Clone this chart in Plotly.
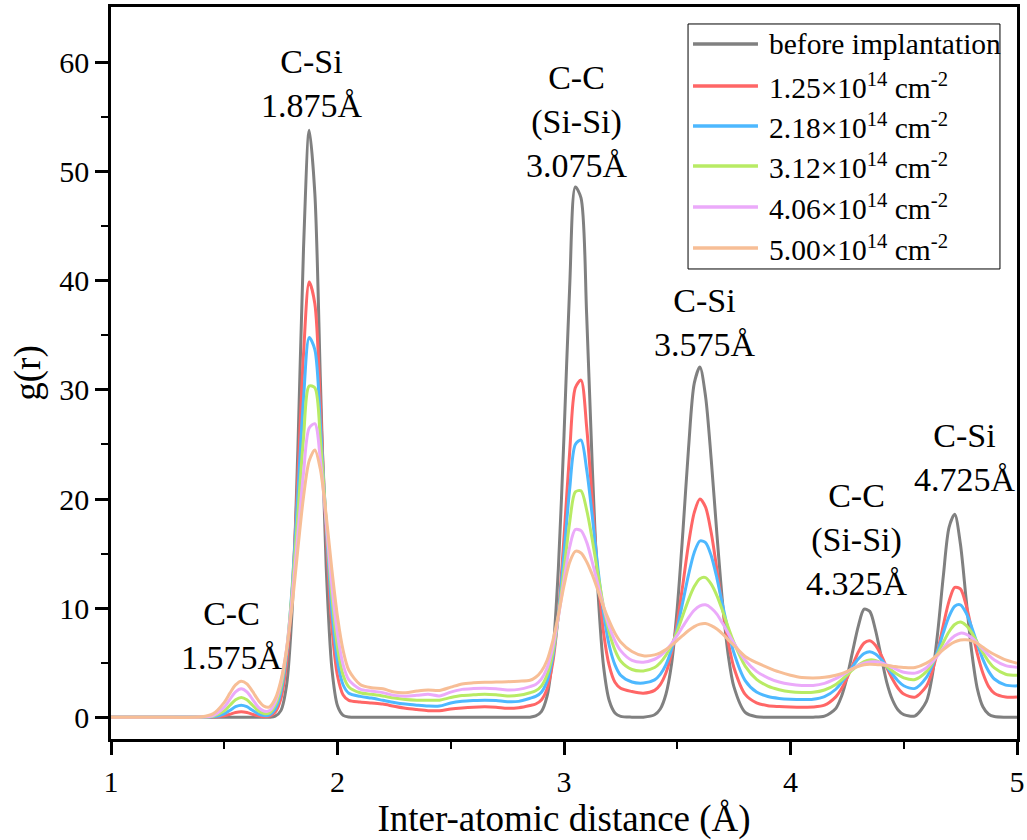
import plotly.graph_objects as go

# ---------------- data ----------------
r = [1.0, 1.2, 1.4, 1.45, 1.5, 1.525, 1.55, 1.575, 1.6, 1.625, 1.65, 1.675, 1.7, 1.725,
     1.75, 1.775, 1.8, 1.825, 1.85, 1.875, 1.9, 1.925, 1.95, 1.975, 2.0, 2.025, 2.05,
     2.1, 2.15, 2.2, 2.25, 2.3, 2.35, 2.4, 2.45, 2.5, 2.55, 2.6, 2.65, 2.7, 2.75, 2.8, 2.85,
     2.875, 2.9, 2.925, 2.95, 2.975, 3.0, 3.025, 3.05, 3.075, 3.1, 3.125, 3.15, 3.175, 3.2, 3.225, 3.25,
     3.3, 3.35, 3.4, 3.425, 3.45, 3.475, 3.5, 3.525, 3.55, 3.575, 3.6, 3.625, 3.65, 3.675, 3.7, 3.725, 3.75,
     3.8, 3.85, 3.9, 3.95, 4.0, 4.05, 4.1, 4.15, 4.2, 4.225, 4.25, 4.275, 4.3, 4.325, 4.35, 4.375, 4.4, 4.425, 4.45, 4.475, 4.5,
     4.55, 4.6, 4.625, 4.65, 4.675, 4.7, 4.725, 4.75, 4.775, 4.8, 4.825, 4.85, 4.875, 4.9, 4.95, 5.0]

g_before = [0, 0, 0, 0, 0, 0, 0, 0, 0, 0, 0, 0, 0, 0.09,
            0.6, 2.9, 9.9, 24.5, 43.0, 53.8, 48.0, 30.5, 13.8, 4.5, 1.05, 0.17, 0.02,
            0, 0, 0, 0, 0, 0, 0, 0, 0, 0, 0, 0, 0, 0, 0, 0,
            0.11, 0.51, 1.9, 5.7, 13.6, 25.8, 39.4, 48.6, 47.6, 36.9, 22.9, 11.5, 4.6, 1.5, 0.39, 0.08,
            0, 0, 0.22, 0.75, 2.1, 4.9, 10.0, 17.0, 24.7, 30.6, 32.1, 29.4, 23.6, 16.8, 10.5, 5.7, 2.8,
            0.44, 0.04, 0, 0, 0, 0, 0, 0.09, 0.8, 1.9, 3.7, 6.1, 8.4, 9.9, 9.7, 8.0, 5.6, 3.2, 1.6, 0.66, 0.23,
            0.13, 1.45, 3.7, 7.8, 13.0, 17.4, 18.6, 15.9, 10.9, 6.0, 2.6, 0.93, 0.27, 0.06, 0, 0]

g_125 = [0, 0, 0, 0.01, 0.12, 0.27, 0.43, 0.5, 0.43, 0.27, 0.12, 0.04, 0.1, 0.46,
         1.68, 4.94, 11.6, 22.0, 33.3, 39.9, 37.9, 28.35, 16.8, 8.3, 3.8, 2.04, 1.54,
         1.4, 1.3, 1.2, 1.0, 0.82, 0.7, 0.6, 0.6, 0.75, 0.85, 0.92, 0.95, 0.92, 0.82, 0.87, 1.07,
         1.21, 1.58, 2.58, 4.96, 9.5, 16.5, 24.3, 30.2, 30.9, 26.6, 19.8, 12.9, 7.7, 4.7, 3.2, 2.65,
         2.35, 2.2, 2.46, 2.99, 4.05, 5.9, 8.7, 12.2, 15.9, 18.75, 20.0, 19.25, 16.9, 13.55, 10.05, 6.9, 4.56,
         2.09, 1.32, 1.05, 0.98, 0.94, 0.92, 0.93, 1.1, 1.86, 2.6, 3.6, 4.8, 6.0, 6.8, 7.0, 6.6, 5.7, 4.55, 3.5, 2.65, 2.12,
         1.84, 2.85, 4.15, 6.1, 8.46, 10.64, 11.9, 11.76, 10.3, 8.05, 5.8, 4.0, 2.8, 2.2, 1.85, 1.85]

g_218 = [0, 0, 0, 0.03, 0.31, 0.63, 0.96, 1.1, 0.96, 0.63, 0.31, 0.15, 0.21, 0.75,
         2.3, 5.75, 12.0, 20.5, 29.2, 34.8, 33.7, 26.7, 17.6, 9.8, 5.1, 2.95, 2.2,
         1.91, 1.75, 1.55, 1.35, 1.2, 1.1, 1.02, 1.02, 1.3, 1.45, 1.52, 1.56, 1.52, 1.42, 1.45, 1.73,
         1.9, 2.29, 3.3, 5.45, 9.4, 15.0, 20.9, 25.0, 25.4, 22.7, 18.4, 13.6, 9.5, 6.55, 4.8, 3.85,
         3.23, 3.13, 3.42, 3.93, 4.82, 6.23, 8.2, 10.6, 13.06, 15.1, 16.15, 16.0, 14.8, 12.75, 10.3, 7.95, 5.9,
         3.35, 2.3, 1.89, 1.72, 1.64, 1.61, 1.64, 1.88, 2.56, 3.17, 3.88, 4.66, 5.35, 5.84, 6.0, 5.8, 5.3, 4.63, 3.94, 3.32, 2.88,
         2.64, 3.64, 4.7, 6.1, 7.75, 9.24, 10.17, 10.3, 9.57, 8.25, 6.7, 5.27, 4.2, 3.5, 2.94, 2.87]

g_312 = [0, 0, 0, 0.08, 0.58, 1.09, 1.59, 1.8, 1.59, 1.09, 0.58, 0.33, 0.39, 1.1,
         2.76, 6.1, 11.6, 18.6, 25.6, 30.35, 30.2, 25.25, 18.0, 11.15, 6.4, 3.84, 2.77,
         2.24, 2.1, 1.95, 1.75, 1.62, 1.56, 1.55, 1.56, 1.8, 1.98, 2.05, 2.1, 2.05, 1.95, 2.0, 2.24,
         2.42, 2.85, 3.86, 5.85, 9.2, 13.5, 17.85, 20.65, 20.75, 19.0, 16.25, 13.1, 10.1, 7.75, 6.15, 5.15,
         4.37, 4.24, 4.55, 4.99, 5.68, 6.6, 7.9, 9.34, 10.78, 11.97, 12.7, 12.8, 12.2, 11.15, 9.76, 8.24, 6.85,
         4.68, 3.47, 2.85, 2.52, 2.33, 2.27, 2.28, 2.49, 3.0, 3.41, 3.87, 4.35, 4.78, 5.1, 5.25, 5.2, 4.98, 4.64, 4.24, 3.89, 3.61,
         3.46, 4.17, 4.92, 5.82, 6.87, 7.83, 8.49, 8.72, 8.42, 7.75, 6.83, 5.9, 5.1, 4.52, 3.94, 3.84]

g_406 = [0, 0, 0.01, 0.15, 0.92, 1.64, 2.32, 2.6, 2.32, 1.64, 0.92, 0.56, 0.61, 1.39,
         3.14, 6.22, 11.0, 16.8, 22.4, 26.5, 26.9, 23.45, 17.9, 12.1, 7.6, 4.8, 3.42,
         2.58, 2.4, 2.25, 2.0, 1.93, 2.0, 2.1, 1.95, 2.3, 2.55, 2.62, 2.65, 2.6, 2.5, 2.55, 2.8,
         3.0, 3.49, 4.5, 6.38, 9.15, 12.55, 15.6, 17.2, 17.1, 16.05, 14.2, 12.15, 10.1, 8.3, 7.0, 6.1,
         5.21, 5.04, 5.31, 5.63, 6.11, 6.75, 7.5, 8.33, 9.13, 9.8, 10.2, 10.3, 10.0, 9.44, 8.6, 7.68, 6.78,
         5.22, 4.2, 3.61, 3.22, 3.01, 2.91, 2.91, 3.1, 3.53, 3.82, 4.13, 4.45, 4.74, 4.95, 5.07, 5.07, 4.99, 4.79, 4.55, 4.32, 4.12,
         4.04, 4.54, 5.04, 5.64, 6.33, 6.98, 7.46, 7.7, 7.61, 7.28, 6.78, 6.22, 5.69, 5.25, 4.73, 4.58]

g_500 = [0, 0, 0.03, 0.3, 1.36, 2.2, 2.96, 3.3, 3.05, 2.36, 1.56, 1.01, 0.95, 1.69,
         3.36, 6.18, 10.3, 15.4, 20.2, 23.5, 24.5, 22.65, 18.5, 13.55, 9.2, 6.1, 4.3,
         3.0, 2.7, 2.6, 2.3, 2.25, 2.4, 2.5, 2.45, 2.75, 3.05, 3.15, 3.2, 3.22, 3.25, 3.3, 3.38,
         3.66, 4.2, 5.2, 6.95, 9.35, 12.05, 14.2, 15.2, 15.05, 14.25, 13.05, 11.6, 10.1, 8.8, 7.7, 6.9,
         6.02, 5.63, 5.71, 5.9, 6.2, 6.58, 7.04, 7.5, 7.94, 8.3, 8.53, 8.58, 8.39, 8.08, 7.64, 7.11, 6.58,
         5.57, 5.0, 4.55, 4.15, 3.85, 3.64, 3.6, 3.65, 3.85, 4.0, 4.2, 4.45, 4.65, 4.8, 4.85, 4.84, 4.8, 4.74, 4.68, 4.6, 4.55,
         4.55, 4.95, 5.3, 5.75, 6.2, 6.6, 6.9, 7.08, 7.1, 7.0, 6.75, 6.4, 6.05, 5.75, 5.25, 4.95]

series_names = ["before implantation",
                "1.25×10<sup>14</sup> cm<sup>-2</sup>",
                "2.18×10<sup>14</sup> cm<sup>-2</sup>",
                "3.12×10<sup>14</sup> cm<sup>-2</sup>",
                "4.06×10<sup>14</sup> cm<sup>-2</sup>",
                "5.00×10<sup>14</sup> cm<sup>-2</sup>"]
series_values = [g_before, g_125, g_218, g_312, g_406, g_500]
series_colors = ["#808080", "#ff6666", "#4db8ff", "#b8eb64", "#ebaafa", "#f7be96"]

peak_labels = ["C-C<br>1.575Å", "C-Si<br>1.875Å", "C-C<br>(Si-Si)<br>3.075Å",
               "C-Si<br>3.575Å", "C-C<br>(Si-Si)<br>4.325Å", "C-Si<br>4.725Å"]
peak_label_x = [1.534, 1.889, 3.059, 3.622, 4.294, 4.772]
peak_label_y = [7.5, 58.1, 54.6, 36.2, 16.3, 23.8]

x_ticks = [1, 2, 3, 4, 5]
y_ticks = [0, 10, 20, 30, 40, 50, 60]

FONT = "Liberation Serif, Times New Roman, serif"

fig = go.Figure()
for name, vals, col in zip(series_names, series_values, series_colors):
    fig.add_trace(go.Scatter(x=r, y=vals, mode="lines", name=name, showlegend=False,
                             line=dict(color=col, width=3, shape="spline", smoothing=0.8)))

# peak annotations
for txt, xx, yy in zip(peak_labels, peak_label_x, peak_label_y):
    fig.add_annotation(x=xx, y=yy, xref="x", yref="y", text=txt, showarrow=False,
                       font=dict(family=FONT, size=34, color="black"),
                       xanchor="center", yanchor="middle", align="center")

# hand-drawn legend box (paper coordinates)
shapes = [dict(type="rect", xref="paper", yref="paper", x0=0.6369, x1=0.9812, y0=0.6421, y1=0.9768,
               line=dict(color="black", width=1), fillcolor="rgba(0,0,0,0)")]
leg_y = [0.9495, 0.8921, 0.8374, 0.7828, 0.7268, 0.6708]
for name, col, yc in zip(series_names, series_colors, leg_y):
    shapes.append(dict(type="line", xref="paper", yref="paper", x0=0.6424, x1=0.7141, y0=yc, y1=yc,
                       line=dict(color=col, width=3.5)))
    fig.add_annotation(x=0.7241, y=yc, xref="paper", yref="paper", text=name, showarrow=False,
                       font=dict(family=FONT, size=29.5, color="black"), xanchor="left", yanchor="middle")

axis_common = dict(showline=True, linewidth=2.5, linecolor="black", mirror=True,
                   ticks="outside", ticklen=13, tickwidth=2.5, tickcolor="black",
                   showgrid=False, zeroline=False, automargin=False,
                   tickfont=dict(family=FONT, size=30, color="black"))

fig.update_layout(
    width=1027, height=840,
    margin=dict(l=111, r=10, t=7, b=101, autoexpand=False),
    paper_bgcolor="white", plot_bgcolor="white",
    font=dict(family=FONT, color="black"),
    shapes=shapes,
    xaxis=dict(range=[1, 5], tickvals=x_ticks, ticktext=[str(v) for v in x_ticks],
               minor=dict(ticks="outside", ticklen=7, tickwidth=2, tickcolor="black",
                          tickvals=[1.5, 2.5, 3.5, 4.5]),
               ticklabelstandoff=1,
               title=dict(text="Inter-atomic distance (Å)", font=dict(family=FONT, size=37), standoff=16),
               **axis_common),
    yaxis=dict(range=[-2.0, 65.1], tickvals=y_ticks, ticktext=[str(v) for v in y_ticks],
               minor=dict(ticks="outside", ticklen=7, tickwidth=2, tickcolor="black",
                          tickvals=[5, 15, 25, 35, 45, 55]),
               ticklabelstandoff=0,
               title=dict(text="g(r)", font=dict(family=FONT, size=37), standoff=8),
               **axis_common),
)

fig.write_html("out.html")
